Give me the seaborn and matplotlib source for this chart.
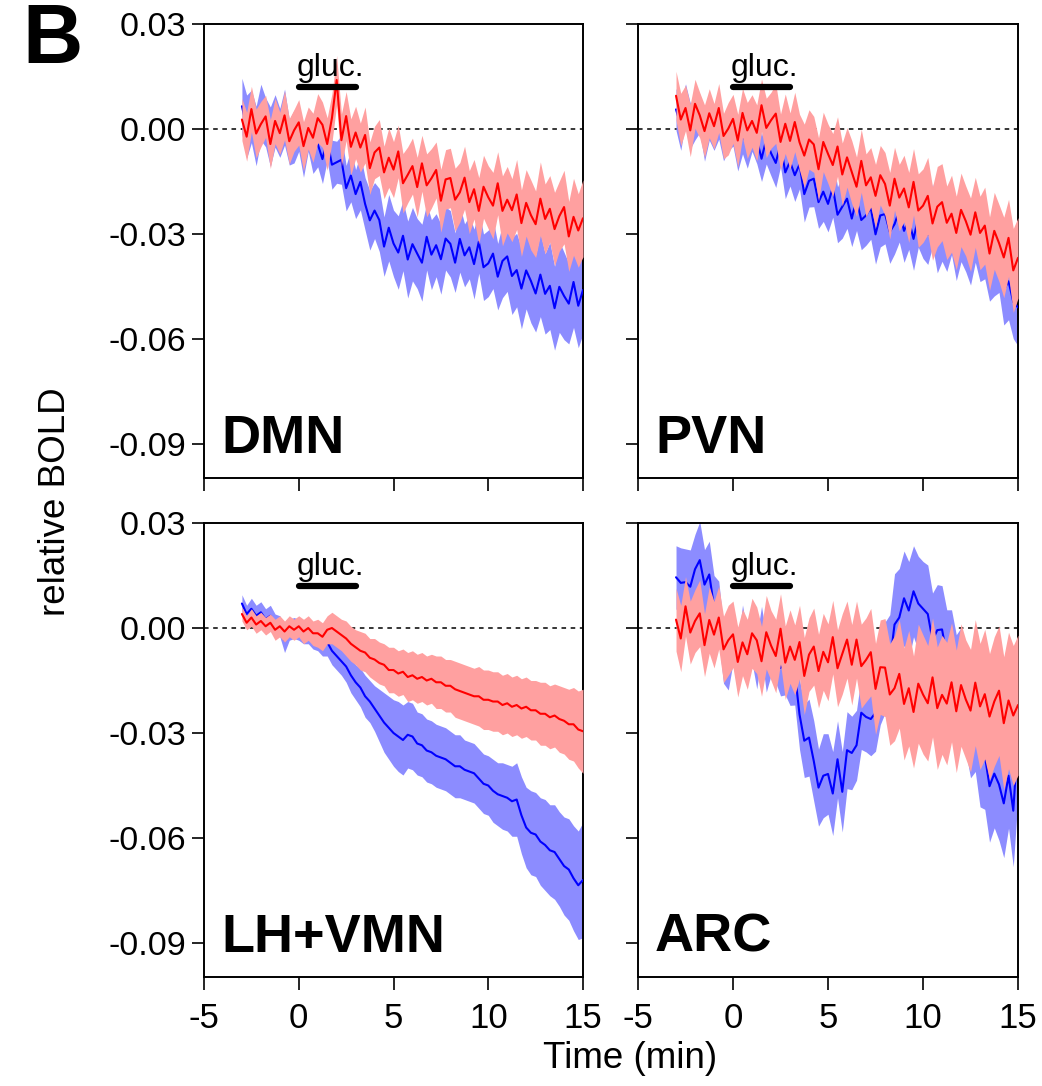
import matplotlib
matplotlib.use("Agg")
import matplotlib.pyplot as plt
import numpy as np
import seaborn as sns

# one sample every 0.25 min, from -3 to 15 min
TIME = np.arange(-3.0, 15.001, 0.25)

# BOLD values are written in units of 0.01 (relative BOLD x 100)
# each row holds t, t+0.25, t+0.5, t+0.75 for t = -3 .. 14, last value is t = 15

DMN_BLUE_MEAN = [
    0.65, 0.07, 0.36, -0.20,   0.48, 0.19, -0.22, 0.23,   -0.11, 0.34, -0.38, -0.22,
    0.01, -0.63, -0.04, -0.57,   -0.43, -0.86, -0.30, -1.02,   -0.95, -0.88, -1.69, -1.33,
    -1.86, -1.51, -2.14, -2.61,   -2.33, -2.60, -3.36, -2.82,   -3.27, -3.53, -3.05, -3.73,
    -3.29, -3.56, -3.82, -3.08,   -3.59, -3.32, -3.72, -3.13,   -3.28, -3.82, -3.14, -3.61,
    -3.38, -3.86, -3.22, -3.95,   -3.84, -3.56, -4.22, -3.77,   -3.64, -4.20, -4.03, -4.56,
    -4.04, -4.34, -4.70, -4.16,   -4.71, -4.48, -5.12, -4.51,   -4.77, -4.99, -4.37, -5.05,
    -4.60,
]
DMN_BLUE_SEM = [
    0.80, 0.90, 0.75, 0.85,   0.80, 0.70, 0.85, 0.75,   0.70, 0.80, 0.65, 0.75,
    0.65, 0.75, 0.60, 0.70,   0.65, 0.70, 0.60, 0.70,   0.60, 0.70, 0.65, 0.75,
    0.70, 0.80, 0.75, 0.85,   0.80, 0.90, 0.85, 0.95,   0.95, 1.05, 1.00, 1.10,
    1.05, 1.00, 1.10, 0.95,   1.00, 0.90, 1.00, 0.90,   0.95, 0.85, 0.95, 0.90,
    0.90, 1.00, 0.90, 0.95,   0.95, 1.00, 0.95, 1.05,   1.00, 1.10, 1.05, 1.15,
    1.10, 1.20, 1.10, 1.20,   1.15, 1.25, 1.20, 1.30,   1.25, 1.15, 1.30, 1.20,
    1.25,
]
DMN_RED_MEAN = [
    0.27, -0.22, 0.57, -0.13,   0.14, 0.36, -0.43, 0.23,   -0.12, 0.39, -0.35, -0.04,
    0.19, -0.49, 0.03, -0.25,   0.31, 0.12, -0.43, 0.31,   1.40, -0.32, 0.37, -0.51,
    -0.10, -0.53, -0.17, -1.12,   -0.67, -0.53, -1.24, -0.82,   -1.16, -0.64, -1.55, -1.31,
    -1.06, -1.66, -0.98, -1.61,   -1.41, -1.17, -2.05, -1.44,   -1.40, -2.02, -1.81, -1.39,
    -2.09, -1.72, -2.34, -1.65,   -1.95, -2.19, -1.55, -2.34,   -2.02, -2.32, -1.87, -2.69,
    -2.11, -2.46, -2.72, -1.99,   -2.57, -2.28, -2.86, -2.49,   -2.23, -3.07, -2.51, -2.90,
    -2.55,
]
DMN_RED_SEM = [
    0.60, 0.70, 0.65, 0.70,   0.65, 0.60, 0.70, 0.65,   0.60, 0.70, 0.65, 0.60,
    0.65, 0.70, 0.60, 0.70,   0.70, 0.65, 0.75, 0.70,   0.70, 0.75, 0.70, 0.80,
    0.75, 0.70, 0.80, 0.75,   0.75, 0.80, 0.75, 0.85,   0.80, 0.75, 0.85, 0.80,
    0.80, 0.85, 0.80, 0.90,   0.85, 0.80, 0.90, 0.85,   0.85, 0.90, 0.85, 0.90,
    0.90, 0.85, 0.95, 0.90,   0.90, 0.95, 0.90, 1.00,   0.95, 0.90, 1.00, 0.95,
    0.95, 1.00, 0.95, 1.05,   1.00, 0.95, 1.05, 1.00,   1.05, 1.00, 1.10, 1.05,
    1.10,
]

PVN_BLUE_MEAN = [
    0.56, 0.09, 0.74, 0.09,   0.29, 0.45, -0.27, 0.28,   -0.06, 0.36, -0.31, -0.06,
    0.11, -0.55, -0.16, -0.47,   -0.04, -0.29, -0.85, -0.30,   -0.69, -0.97, -0.42, -1.24,
    -0.93, -1.32, -1.01, -1.86,   -1.48, -1.42, -2.09, -1.79,   -2.14, -1.67, -2.45, -2.22,
    -1.99, -2.56, -2.00, -2.60,   -2.47, -2.25, -3.01, -2.47,   -2.43, -2.94, -2.72, -2.33,
    -2.91, -2.59, -3.14, -2.53,   -2.80, -3.02, -2.46, -3.16,   -2.88, -3.12, -2.69, -3.38,
    -2.84, -3.18, -3.46, -2.86,   -3.41, -3.28, -3.92, -3.72,   -3.62, -4.60, -4.35, -4.94,
    -5.10,
]
PVN_BLUE_SEM = [
    0.60, 0.70, 0.55, 0.65,   0.60, 0.55, 0.65, 0.60,   0.55, 0.65, 0.60, 0.55,
    0.60, 0.65, 0.55, 0.65,   0.60, 0.70, 0.65, 0.70,   0.65, 0.70, 0.65, 0.75,
    0.70, 0.75, 0.70, 0.80,   0.75, 0.80, 0.75, 0.85,   0.80, 0.85, 0.80, 0.90,
    0.85, 0.80, 0.90, 0.85,   0.85, 0.90, 0.85, 0.90,   0.85, 0.90, 0.85, 0.90,
    0.90, 0.85, 0.90, 0.85,   0.90, 0.85, 0.90, 0.95,   0.90, 0.95, 0.90, 0.95,
    0.95, 0.90, 1.00, 0.95,   0.95, 1.00, 1.00, 1.05,   1.05, 1.00, 1.10, 1.05,
    1.10,
]
PVN_RED_MEAN = [
    0.95, 0.27, 0.60, -0.04,   0.72, 0.39, -0.06, 0.45,   0.08, 0.60, -0.20, 0.01,
    0.29, -0.33, 0.46, -0.04,   0.23, -0.11, 0.68, 0.03,   0.25, 0.44, -0.37, 0.15,
    -0.34, 0.20, -0.38, -0.76,   -0.30, -0.44, -1.15, -0.37,   -0.71, -1.03, -0.50, -1.30,
    -0.81, -1.23, -1.65, -0.91,   -1.61, -1.38, -1.91, -1.32,   -1.57, -2.19, -1.42, -1.96,
    -1.70, -2.24, -1.51, -2.33,   -2.19, -1.91, -2.70, -2.22,   -2.09, -2.68, -2.42, -2.97,
    -2.31, -2.63, -3.02, -2.38,   -2.97, -2.76, -3.56, -2.91,   -3.26, -3.67, -3.11, -4.04,
    -3.68,
]
PVN_RED_SEM = [
    0.70, 0.75, 0.65, 0.75,   0.70, 0.65, 0.75, 0.70,   0.65, 0.70, 0.65, 0.75,
    0.70, 0.75, 0.70, 0.80,   0.75, 0.80, 0.75, 0.85,   0.80, 0.85, 0.80, 0.85,
    0.80, 0.85, 0.80, 0.90,   0.85, 0.80, 0.90, 0.85,   0.85, 0.90, 0.85, 0.90,
    0.85, 0.90, 0.85, 0.90,   0.90, 0.85, 0.90, 0.85,   0.90, 0.95, 0.90, 0.95,
    0.95, 1.00, 0.95, 1.05,   1.05, 1.10, 1.05, 1.15,   1.10, 1.05, 1.10, 1.05,
    1.05, 1.00, 1.05, 1.00,   1.05, 1.10, 1.05, 1.10,   1.10, 1.15, 1.10, 1.20,
    1.15,
]

LHVMN_BLUE_MEAN = [
    0.70, 0.40, 0.55, 0.35,   0.45, 0.25, 0.35, 0.10,   0.05, -0.35, -0.05, 0.00,
    -0.05, -0.15, -0.10, -0.25,   -0.30, -0.45, -0.40, -0.65,   -0.80, -0.95, -1.10, -1.35,
    -1.55, -1.70, -1.95, -2.10,   -2.30, -2.50, -2.70, -2.85,   -3.00, -3.10, -3.20, -3.05,
    -3.10, -3.30, -3.35, -3.50,   -3.55, -3.65, -3.70, -3.75,   -3.85, -3.95, -3.95, -4.05,
    -4.10, -4.15, -4.30, -4.45,   -4.50, -4.65, -4.75, -4.80,   -4.85, -4.95, -4.90, -5.35,
    -5.70, -5.85, -5.90, -6.10,   -6.20, -6.35, -6.40, -6.60,   -6.80, -6.90, -7.15, -7.35,
    -7.20,
]
LHVMN_BLUE_SEM = [
    0.25, 0.25, 0.30, 0.30,   0.30, 0.30, 0.30, 0.30,   0.30, 0.35, 0.30, 0.30,
    0.30, 0.30, 0.35, 0.35,   0.35, 0.35, 0.40, 0.40,   0.40, 0.40, 0.45, 0.50,
    0.50, 0.55, 0.60, 0.60,   0.65, 0.75, 0.85, 0.90,   0.95, 1.00, 1.00, 0.95,
    0.95, 0.90, 0.90, 0.90,   0.90, 0.90, 0.90, 0.90,   0.90, 0.90, 0.90, 0.85,
    0.85, 0.85, 0.85, 0.85,   0.85, 0.90, 0.90, 0.95,   0.95, 1.00, 1.05, 1.10,
    1.15, 1.20, 1.20, 1.25,   1.30, 1.30, 1.35, 1.35,   1.40, 1.45, 1.50, 1.55,
    1.65,
]
LHVMN_RED_MEAN = [
    0.40, 0.15, 0.30, 0.10,   0.20, 0.05, 0.15, -0.05,   0.05, -0.10, 0.05, -0.05,
    0.05, -0.10, 0.00, -0.15,   -0.15, -0.25, -0.05, 0.00,   -0.10, -0.20, -0.30, -0.45,
    -0.55, -0.65, -0.70, -0.85,   -0.90, -1.00, -1.05, -1.20,   -1.20, -1.30, -1.25, -1.40,
    -1.35, -1.45, -1.40, -1.50,   -1.45, -1.55, -1.55, -1.65,   -1.65, -1.75, -1.80, -1.85,
    -1.90, -1.95, -1.95, -2.05,   -2.05, -2.10, -2.10, -2.20,   -2.15, -2.25, -2.20, -2.30,
    -2.25, -2.35, -2.35, -2.45,   -2.45, -2.55, -2.50, -2.60,   -2.65, -2.75, -2.75, -2.90,
    -2.95,
]
LHVMN_RED_SEM = [
    0.20, 0.20, 0.25, 0.25,   0.25, 0.25, 0.25, 0.30,   0.30, 0.30, 0.30, 0.30,
    0.30, 0.35, 0.35, 0.35,   0.40, 0.40, 0.40, 0.45,   0.45, 0.45, 0.50, 0.50,
    0.50, 0.55, 0.55, 0.55,   0.60, 0.60, 0.60, 0.65,   0.65, 0.65, 0.65, 0.70,
    0.70, 0.70, 0.70, 0.70,   0.70, 0.75, 0.75, 0.75,   0.75, 0.80, 0.80, 0.80,
    0.80, 0.80, 0.85, 0.85,   0.85, 0.85, 0.85, 0.85,   0.85, 0.85, 0.85, 0.85,
    0.85, 0.85, 0.85, 0.90,   0.90, 0.90, 0.90, 0.95,   0.95, 1.00, 1.05, 1.10,
    1.20,
]

ARC_BLUE_MEAN = [
    1.45, 1.29, 1.31, 1.18,   1.68, 1.94, 1.24, 1.53,   0.60, 0.49, -0.78, -0.97,
    -0.24, -1.15, -0.09, -0.84,   -0.28, -0.99, -0.08, -1.03,   -0.55, -0.71, -1.14, -1.01,
    -1.31, -1.25, -2.47, -3.22,   -3.13, -3.80, -4.56, -4.22,   -4.17, -4.73, -3.75, -4.68,
    -3.49, -3.57, -3.35, -2.42,   -2.54, -2.60, -2.42, -1.56,   -1.13, -1.02, 0.10, 0.30,
    0.85, 0.50, 1.05, 0.70,   0.55, 0.40, -0.35, -0.06,   -0.04, -0.78, -0.83, -1.59,
    -1.49, -2.10, -2.78, -2.55,   -3.61, -3.63, -4.52, -4.16,   -4.47, -5.01, -4.22, -5.22,
    -3.10,
]
ARC_BLUE_SEM = [
    0.90, 1.00, 0.95, 1.05,   1.00, 1.10, 1.00, 0.95,   0.90, 0.85, 0.80, 0.80,
    0.75, 0.70, 0.75, 0.70,   0.70, 0.75, 0.70, 0.80,   0.80, 0.85, 0.80, 0.90,
    0.90, 0.95, 1.00, 1.05,   1.10, 1.15, 1.10, 1.20,   1.15, 1.20, 1.10, 1.15,
    1.10, 1.05, 1.00, 1.05,   1.00, 1.05, 1.10, 1.20,   1.30, 1.40, 1.45, 1.40,
    1.35, 1.40, 1.30, 1.35,   1.35, 1.40, 1.35, 1.30,   1.25, 1.30, 1.35, 1.40,
    1.50, 1.45, 1.50, 1.55,   1.50, 1.55, 1.60, 1.55,   1.60, 1.55, 1.50, 1.60,
    1.70,
]
ARC_RED_MEAN = [
    0.24, -0.30, 0.62, -0.13,   0.20, 0.42, -0.49, 0.23,   -0.19, 0.30, -0.61, -0.35,
    -0.18, -0.97, -0.41, -0.75,   -0.15, -0.35, -0.95, -0.12,   -0.50, -0.80, -0.02, -0.99,
    -0.53, -0.91, -0.40, -1.37,   -0.76, -0.53, -1.23, -0.68,   -0.98, -0.26, -1.15, -0.74,
    -0.33, -1.05, -0.33, -1.09,   -0.91, -0.69, -1.74, -1.12,   -1.13, -1.90, -1.72, -1.31,
    -2.17, -1.72, -2.40, -1.59,   -1.90, -2.15, -1.41, -2.29,   -1.91, -2.16, -1.55, -2.38,
    -1.63, -2.04, -2.36, -1.56,   -2.24, -1.89, -2.53, -2.10,   -1.79, -2.72, -2.07, -2.50,
    -2.20,
]
ARC_RED_SEM = [
    0.90, 0.95, 0.85, 0.90,   0.90, 0.95, 0.90, 0.95,   0.95, 0.90, 0.95, 1.00,
    0.95, 1.00, 0.95, 1.00,   1.00, 0.95, 1.00, 1.05,   1.00, 1.05, 1.00, 1.05,
    1.05, 1.00, 1.05, 1.10,   1.05, 1.10, 1.05, 1.10,   1.10, 1.05, 1.10, 1.15,
    1.10, 1.15, 1.10, 1.20,   1.20, 1.25, 1.30, 1.35,   1.40, 1.45, 1.50, 1.55,
    1.60, 1.65, 1.60, 1.70,   1.70, 1.65, 1.70, 1.75,   1.70, 1.75, 1.70, 1.75,
    1.75, 1.70, 1.75, 1.80,   1.80, 1.85, 1.80, 1.85,   1.85, 1.90, 1.95, 2.00,
    2.00,
]

PANEL_LABELS = ["DMN", "PVN", "LH+VMN", "ARC"]
GLUC_WINDOW = [0, 3]  # min
X_TICKS = [-5, 0, 5, 10, 15]
Y_TICKS = [0.03, 0.00, -0.03, -0.06, -0.09]

BLUE_LINE, BLUE_BAND = "#0000FF", "#8C8CFF"
RED_LINE, RED_BAND = "#FF0000", "#FFA0A0"

NARROW = ["Liberation Sans Narrow", "Liberation Sans", "DejaVu Sans"]


def draw_panel(ax, label, blue_mean, blue_sem, red_mean, red_sem, show_x, show_y):
    ax.axhline(0, color="black", lw=1.1, ls=(0, (3, 3)), zorder=1)

    z = 2
    for mean, sem, line_c, band_c in (
        (blue_mean, blue_sem, BLUE_LINE, BLUE_BAND),
        (red_mean, red_sem, RED_LINE, RED_BAND),
    ):
        m = np.asarray(mean) / 100
        s = np.asarray(sem) / 100
        ax.fill_between(TIME, m - s, m + s, color=band_c, lw=0, zorder=z)
        sns.lineplot(x=TIME, y=m, ax=ax, color=line_c, lw=1.5, zorder=z + 1,
                     estimator=None, sort=False)
        z += 2

    ax.plot(GLUC_WINDOW, [0.012, 0.012], color="black", lw=4.5,
            solid_capstyle="round", zorder=10)
    ax.text(np.mean(GLUC_WINDOW) + 0.15, 0.0152, "gluc.", ha="center",
            va="baseline", fontsize=23, zorder=10)
    ax.text(0.045, 0.055, label, transform=ax.transAxes, fontsize=39,
            fontweight="bold", va="baseline")

    ax.set_xlim(-5, 15)
    ax.set_ylim(-0.0997, 0.03)
    ax.set_xticks(X_TICKS)
    ax.set_yticks(Y_TICKS)
    ax.set_xlabel("")
    ax.set_ylabel("")
    for sp in ax.spines.values():
        sp.set_visible(True)
        sp.set_linewidth(1.4)
        sp.set_color("black")
    ax.tick_params(direction="out", length=9, width=1.2, color="black",
                   labelcolor="black")
    ax.tick_params(axis="x", pad=9)
    ax.tick_params(axis="y", pad=4)
    if show_x:
        ax.set_xticklabels([f"{v:d}" for v in X_TICKS], fontsize=25, family=NARROW)
    else:
        ax.set_xticklabels([])
    if show_y:
        ax.set_yticklabels([f"{v:.2f}" for v in Y_TICKS], fontsize=24.5)
    else:
        ax.set_yticklabels([])


sns.set_style("ticks")
plt.rcParams["font.family"] = ["Liberation Sans", "DejaVu Sans"]
plt.rcParams["text.color"] = "black"
plt.rcParams["axes.labelcolor"] = "black"
plt.rcParams["xtick.color"] = "black"
plt.rcParams["ytick.color"] = "black"

fig = plt.figure(figsize=(10.42, 10.86), dpi=100)

left_x, right_x = 0.1958, 0.6123
top_y, bottom_y = 0.5599, 0.1004
w_left, w_right, h = 0.3637, 0.3647, 0.4180

panels = [
    (fig.add_axes([left_x, top_y, w_left, h]), DMN_BLUE_MEAN, DMN_BLUE_SEM, DMN_RED_MEAN, DMN_RED_SEM, False, True),
    (fig.add_axes([right_x, top_y, w_right, h]), PVN_BLUE_MEAN, PVN_BLUE_SEM, PVN_RED_MEAN, PVN_RED_SEM, False, False),
    (fig.add_axes([left_x, bottom_y, w_left, h]), LHVMN_BLUE_MEAN, LHVMN_BLUE_SEM, LHVMN_RED_MEAN, LHVMN_RED_SEM, True, True),
    (fig.add_axes([right_x, bottom_y, w_right, h]), ARC_BLUE_MEAN, ARC_BLUE_SEM, ARC_RED_MEAN, ARC_RED_SEM, True, False),
]
for label, (ax, bm, bs, rm, rs, sx, sy) in zip(PANEL_LABELS, panels):
    draw_panel(ax, label, bm, bs, rm, rs, sx, sy)

fig.text(0.053, 0.538, "relative BOLD", rotation=90, ha="center", va="center",
         fontsize=26.5, family=NARROW)
fig.text(0.605, 0.025, "Time (min)", ha="center", va="center", fontsize=26.5,
         family=NARROW)
fig.text(0.05, 0.962, "B", ha="center", va="center", fontsize=60,
         fontweight="bold")

fig.savefig("out.png", dpi=100)
